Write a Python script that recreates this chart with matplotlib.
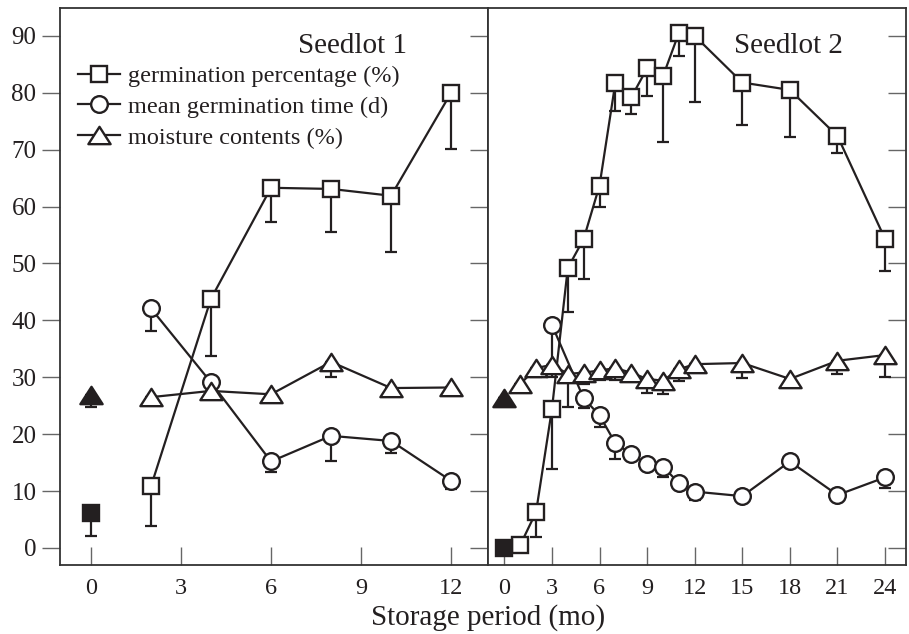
import matplotlib

matplotlib.use("Agg")
import matplotlib.pyplot as plt
import numpy as np
from matplotlib.path import Path

plt.rcParams["font.family"] = ["Liberation Serif", "DejaVu Serif"]

# ── Seedlot 1 ──
s1_x = [2, 4, 6, 8, 10, 12]
s1_germ = [10.8, 43.8, 63.3, 63.1, 61.9, 80.0]
s1_germ_err = [6.9, 10.0, 6.1, 7.6, 9.9, 9.9]
s1_mgt = [42.1, 29.1, 15.2, 19.7, 18.8, 11.8]
s1_mgt_err = [4.0, 0.0, 1.9, 4.5, 2.2, 1.5]
s1_moist = [26.5, 27.6, 27.0, 32.7, 28.1, 28.2]
s1_moist_err = [1.2, 0.0, 0.0, 2.6, 0.0, 1.3]
s1_init_germ, s1_init_germ_err = 6.2, 4.1
s1_init_moist, s1_init_moist_err = 26.9, 2.2

# ── Seedlot 2 ──
s2_x_germ = [1, 2, 3, 4, 5, 6, 7, 8, 9, 10, 11, 12, 15, 18, 21, 24]
s2_germ = [0.5, 6.3, 24.4, 49.2, 54.3, 63.7, 81.8, 79.2, 84.3, 82.9, 90.5, 90.0, 81.8, 80.5, 72.4, 54.3]
s2_germ_err = [0.0, 4.4, 10.5, 7.7, 7.1, 3.7, 5.0, 3.0, 4.8, 11.5, 4.0, 11.6, 7.4, 8.3, 3.0, 5.6]
s2_x_mgt = [3, 5, 6, 7, 8, 9, 10, 11, 12, 15, 18, 21, 24]
s2_mgt = [39.2, 26.3, 23.3, 18.4, 16.5, 14.7, 14.3, 11.4, 9.9, 9.1, 15.2, 9.3, 12.4]
s2_mgt_err = [7.0, 1.7, 2.0, 2.8, 0.0, 0.0, 1.9, 0.0, 1.5, 0.0, 0.0, 0.0, 1.9]
s2_x_moist = [1, 2, 3, 4, 5, 6, 7, 8, 9, 10, 11, 12, 15, 18, 21, 24]
s2_moist = [28.8, 31.6, 32.2, 30.6, 30.8, 31.2, 31.6, 30.8, 29.7, 29.4, 31.4, 32.3, 32.5, 29.7, 32.9, 33.9]
s2_moist_err = [1.3, 1.5, 2.2, 5.9, 2.0, 1.7, 2.1, 0.0, 2.5, 2.3, 2.0, 0.0, 2.7, 0.5, 2.4, 3.9]
s2_init_germ, s2_init_germ_err = 0.0, 0.0
s2_init_moist, s2_init_moist_err = 26.3, 0.0

labels = ["germination percentage (%)", "mean germination time (d)", "moisture contents (%)"]
y_ticks = list(range(0, 91, 10))

INK = "#231f20"
TICK = "#666666"
TRI = Path([(0, 0.78), (-1, -0.78), (1, -0.78), (0, 0.78)],
           [Path.MOVETO, Path.LINETO, Path.LINETO, Path.CLOSEPOLY])
STYLE = {
    "s": dict(marker="s", markersize=12),
    "o": dict(marker="o", markersize=12),
    "^": dict(marker=TRI, markersize=16),
}


def _series(ax, x, y, err, key, label=None, filled=False, line=True):
    ax.errorbar(x, y, yerr=[err, np.zeros(len(np.atleast_1d(err)))], fmt="none",
                ecolor=INK, elinewidth=1.6, capsize=4.5, capthick=1.6, zorder=2)
    ax.plot(x, y, color=INK, lw=1.6 if line else 0, markeredgewidth=1.7,
            markeredgecolor=INK, markerfacecolor=INK if filled else "white",
            label=label, zorder=3, **STYLE[key])


def _style(ax, xlim, xticks, left_labels):
    ax.set_xlim(*xlim)
    ax.set_ylim(-3, 94.9)
    ax.set_xticks(xticks)
    ax.set_yticks(y_ticks)
    ax.tick_params(axis="x", direction="in", length=13, width=1, color=TICK,
                   labelsize=17.5, pad=9, labelcolor=INK)
    if left_labels:
        # labelled ticks point outward on the left, inward ticks on the right
        ax.tick_params(axis="y", direction="out", length=13, width=1, color=TICK,
                       labelsize=18, pad=4, labelcolor=INK)
        sec = ax.secondary_yaxis("right")
        sec.set_yticks(y_ticks)
        sec.tick_params(axis="y", direction="in", length=13, width=1, color=TICK,
                        labelright=False)
        sec.spines["right"].set_visible(False)
    else:
        ax.tick_params(axis="y", direction="in", length=13, width=1, color=TICK,
                       right=True, left=False, labelleft=False)
    for sp in ax.spines.values():
        sp.set_linewidth(1.3)
        sp.set_color("#333333")


fig = plt.figure(figsize=(9.09, 6.34), dpi=100)
ax1 = fig.add_axes([60 / 909, 1 - 565 / 634, 428 / 909, 557 / 634])
ax2 = fig.add_axes([488 / 909, 1 - 565 / 634, 418 / 909, 557 / 634])

# Seedlot 1
_series(ax1, s1_x, s1_germ, s1_germ_err, "s", labels[0])
_series(ax1, s1_x, s1_mgt, s1_mgt_err, "o", labels[1])
_series(ax1, s1_x, s1_moist, s1_moist_err, "^", labels[2])
_series(ax1, [0], [s1_init_germ], [s1_init_germ_err], "s", filled=True, line=False)
_series(ax1, [0], [s1_init_moist], [s1_init_moist_err], "^", filled=True, line=False)
_style(ax1, (-1.03, 13.23), [0, 3, 6, 9, 12], True)
ax1.text(0.81, 0.955, "Seedlot 1", transform=ax1.transAxes, ha="right", va="top",
         fontsize=21, color=INK)
ax1.legend(loc="upper left", bbox_to_anchor=(0.02, 0.915), frameon=False, fontsize=17.5,
           handlelength=1.7, handletextpad=0.35, labelspacing=0.36, borderaxespad=0,
           labelcolor=INK)

# Seedlot 2
_series(ax2, s2_x_germ, s2_germ, s2_germ_err, "s")
_series(ax2, s2_x_mgt, s2_mgt, s2_mgt_err, "o")
_series(ax2, s2_x_moist, s2_moist, s2_moist_err, "^")
_series(ax2, [0], [s2_init_germ], [s2_init_germ_err], "s", filled=True, line=False)
_series(ax2, [0], [s2_init_moist], [s2_init_moist_err], "^", filled=True, line=False)
_style(ax2, (-1.03, 25.32), [0, 3, 6, 9, 12, 15, 18, 21, 24], False)
ax2.text(0.85, 0.955, "Seedlot 2", transform=ax2.transAxes, ha="right", va="top",
         fontsize=21, color=INK)

fig.text(488 / 909, 1 - 618 / 634, "Storage period (mo)", ha="center", va="center",
         fontsize=21, color=INK)

fig.savefig("out.png", dpi=100)
plt.close(fig)
